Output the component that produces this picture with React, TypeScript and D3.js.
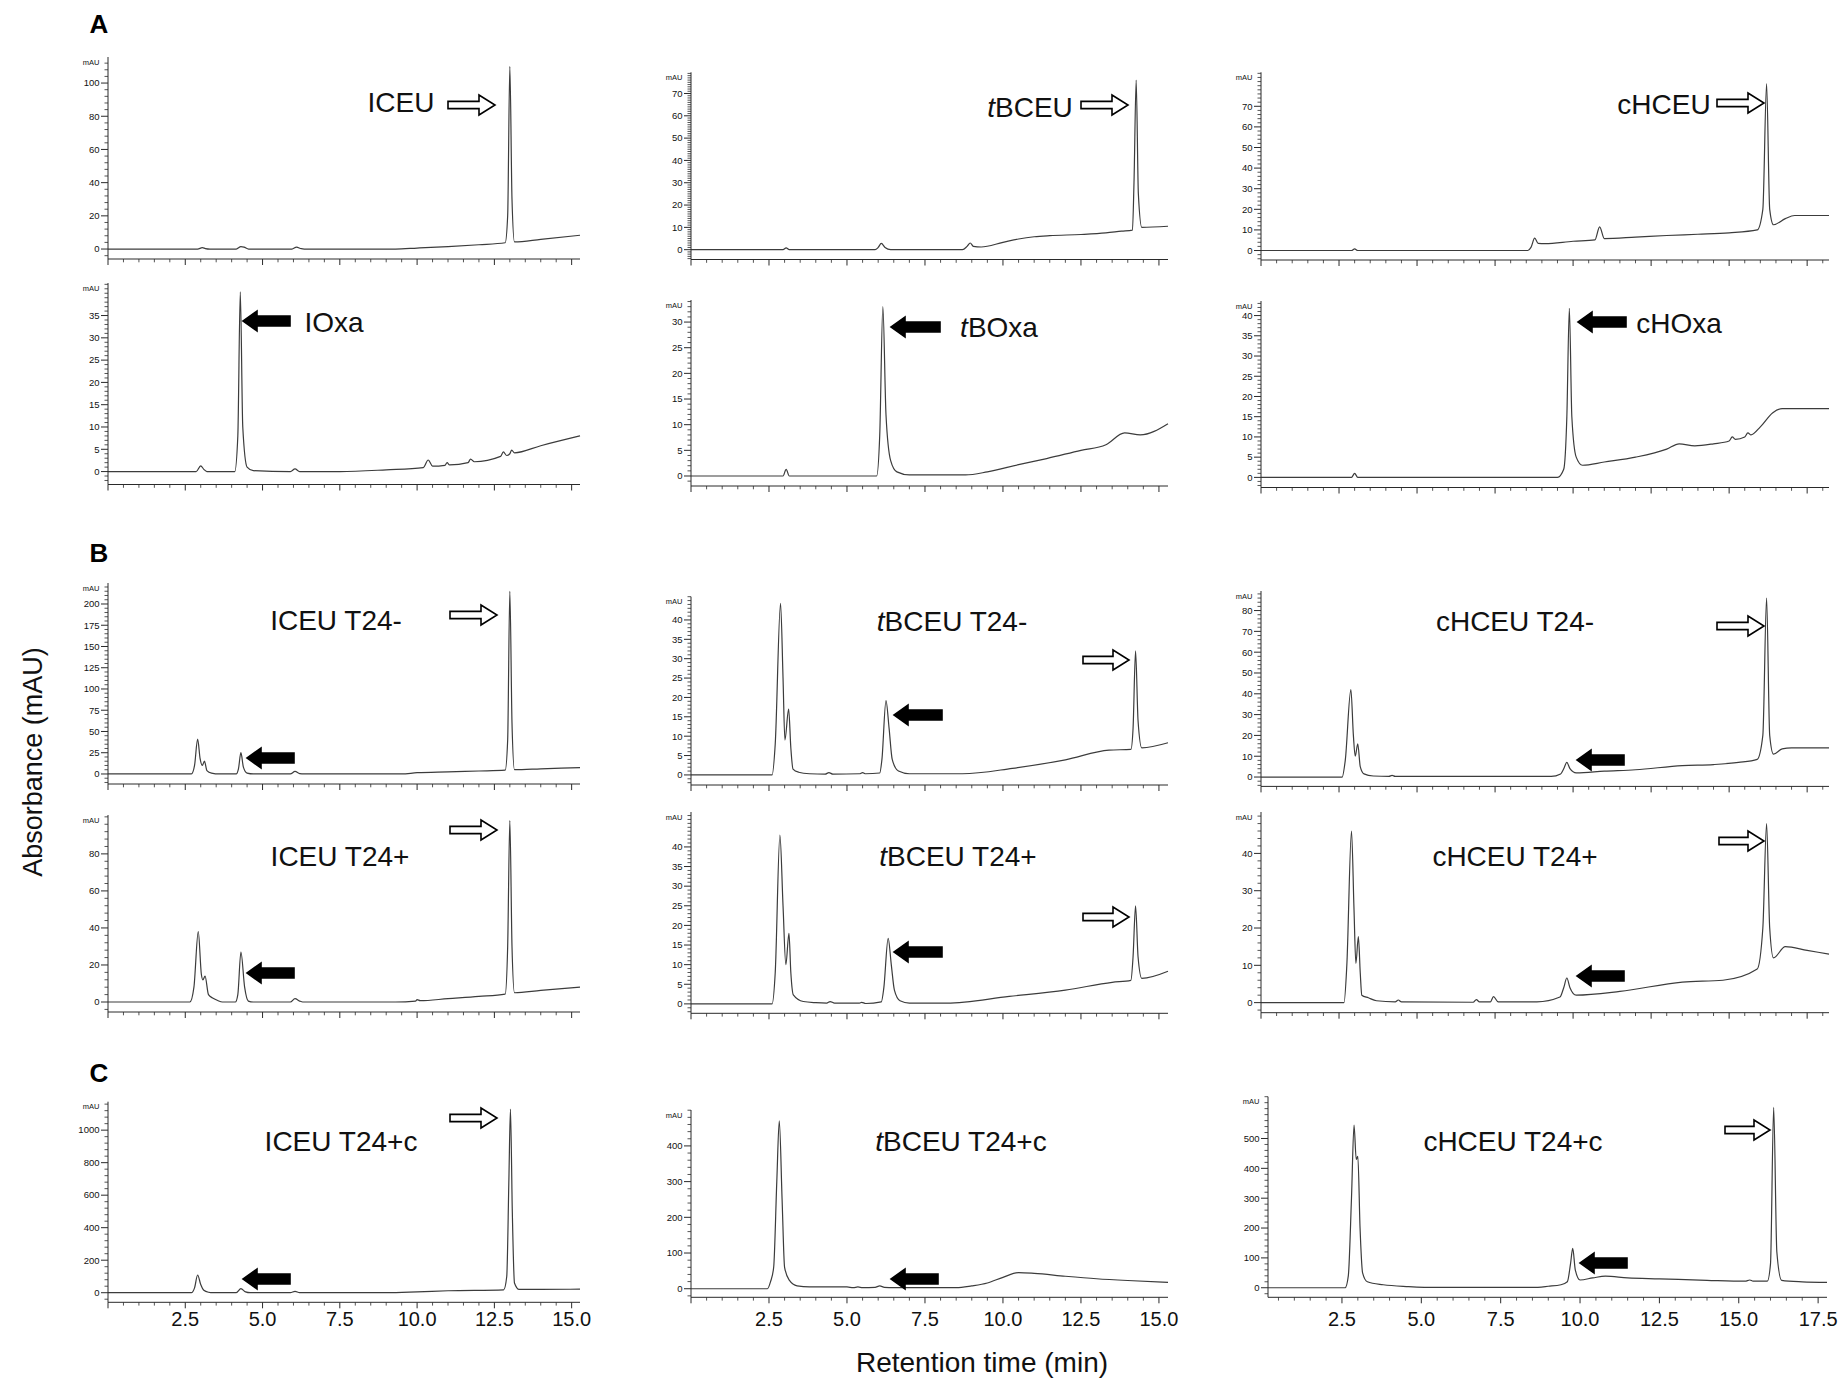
import React from 'react';
import * as d3 from 'd3';

type Pt = [number, number];

// ---------- Data (retention time in min, absorbance in mAU) ----------
const ICEU: Pt[] = [[0,0],[2.9,0],[3.05,0.8],[3.15,0.3],[3.3,0],[4.15,0],[4.3,1.5],[4.4,1.2],[4.55,0],[5.95,0],[6.1,1.2],[6.25,0.2],[6.35,0],[9.3,0],[10,0.6],[11,1.5],[12,2.6],[12.85,3.8],[12.93,20],[13.0,110],[13.07,30],[13.15,4.3],[14,5.8],[15.27,8.3]];
const IOxa: Pt[] = [[0,0],[2.85,0],[3.0,1.3],[3.1,0.5],[3.2,0],[4.1,0],[4.2,8],[4.28,40.3],[4.36,10],[4.5,1],[4.7,0.2],[5.9,0],[6.05,0.6],[6.2,0],[7.5,0],[9,0.4],[10.2,0.9],[10.36,2.6],[10.5,1.2],[10.9,1.4],[10.97,2],[11.05,1.5],[11.65,2],[11.73,2.8],[11.85,2.2],[12.7,3.4],[12.79,4.4],[12.9,3.6],[13.0,4],[13.06,4.8],[13.15,4.2],[14,5.8],[15.27,8]];
const tBCEU: Pt[] = [[0,0],[2.95,0],[3.05,0.8],[3.15,0],[5.9,0],[6.0,1],[6.1,2.8],[6.22,1],[6.4,0],[8.7,0],[8.85,1.5],[8.95,3],[9.05,1.5],[9.3,1.2],[10,3.3],[10.5,4.8],[11,5.8],[11.5,6.3],[12.5,6.8],[13.3,7.5],[13.8,8.3],[14.15,8.8],[14.2,30],[14.27,76],[14.34,25],[14.45,10],[15.29,10.5]];
const tBOxa: Pt[] = [[0,0],[2.95,0],[3.05,1.3],[3.15,0],[5.95,0],[6.05,8],[6.15,33],[6.25,12],[6.4,3],[6.6,0.8],[7,0.2],[8.8,0.2],[9.5,0.8],[10.5,2.2],[11.4,3.4],[12.5,5],[13.3,6.1],[13.9,8.4],[14.4,8],[15.29,10.2]];
const cHCEU: Pt[] = [[0,0],[2.9,0],[3.0,0.8],[3.1,0],[8.55,0],[8.65,1.5],[8.77,6],[8.88,3.5],[9.1,3.3],[10,4.5],[10.7,5.2],[10.85,11.5],[11.0,5.8],[12,6.5],[13,7.3],[14,7.9],[15,8.6],[15.9,10],[16.08,20],[16.2,81],[16.3,20],[16.42,12.5],[16.8,15.5],[17.1,17],[18.2,17]];
const cHOxa: Pt[] = [[0,0],[2.9,0],[3.0,1],[3.1,0],[9.5,0],[9.7,2],[9.8,15],[9.88,41.8],[9.96,15],[10.1,5],[10.3,3],[11,3.8],[12,5],[13,7],[13.4,8.3],[13.9,7.8],[14.5,8.3],[15.0,9],[15.1,10],[15.2,9.4],[15.5,10],[15.6,11],[15.7,10.5],[16.0,12.5],[16.4,16],[16.7,17],[18.2,17]];
const ICEU_T24m: Pt[] = [[0,0],[2.7,0],[2.8,10],[2.9,41],[2.98,18],[3.05,10],[3.12,15],[3.2,4],[3.35,1],[3.6,0],[4.15,0],[4.22,6],[4.3,25],[4.38,8],[4.5,1],[4.7,0],[5.9,0],[6.05,3],[6.2,0.5],[6.35,0],[9.5,0],[10.0,1.5],[11.0,2.5],[12.0,3.5],[12.85,4.5],[12.93,40],[13.0,215],[13.07,60],[13.15,5],[14,6],[15.27,7.5]];
const ICEU_T24p: Pt[] = [[0,0],[2.65,0],[2.78,8],[2.92,38],[3.02,15],[3.07,12],[3.14,14],[3.25,4],[3.4,2],[3.55,0.8],[3.7,0],[4.12,0],[4.2,4],[4.3,27],[4.42,8],[4.54,0.5],[4.7,0],[5.9,0],[6.05,1.8],[6.2,0.5],[6.3,0],[9.3,0],[9.95,0.5],[10.0,1.3],[10.1,0.7],[11,1.8],[12,3],[12.85,4.3],[12.93,30],[13.0,98],[13.07,30],[13.15,5],[14,6.3],[15.27,8]];
const tBCEU_T24m: Pt[] = [[0,0],[2.6,0],[2.7,8],[2.87,44.3],[2.95,25],[3.01,9],[3.13,17],[3.2,7],[3.27,1.5],[3.45,0.7],[3.8,0.3],[4.3,0.2],[4.42,0.6],[4.55,0.2],[5.4,0.3],[5.5,0.6],[5.6,0.3],[6.05,0.5],[6.12,4],[6.25,19.2],[6.35,12],[6.45,4],[6.65,1],[7,0.3],[8.7,0.3],[10.3,1.7],[12,3.9],[13.4,6.4],[14.1,6.6],[14.17,12],[14.25,32],[14.33,14],[14.45,7],[15.29,8.3]];
const tBCEU_T24p: Pt[] = [[0,0],[2.6,0],[2.7,8],[2.85,43],[2.95,25],[3.04,10],[3.14,18],[3.2,8],[3.28,2.3],[3.6,0.6],[4,0.3],[4.35,0.2],[4.46,0.6],[4.6,0.2],[5.4,0.2],[5.47,0.4],[5.6,0.1],[6.1,0.5],[6.18,4],[6.32,16.7],[6.42,10],[6.52,3.5],[6.7,0.8],[7,0.2],[8.2,0.2],[10.2,1.9],[12,3.5],[13.5,5.5],[14.1,6],[14.17,12],[14.25,25],[14.33,12],[14.45,6.5],[15.29,8.3]];
const cHCEU_T24m: Pt[] = [[0,0],[2.6,0],[2.7,8],[2.88,42],[2.96,20],[3.02,10],[3.1,16],[3.18,5],[3.3,1.5],[3.6,0.5],[4.1,0.3],[4.2,0.8],[4.3,0.3],[9.3,0.3],[9.6,1.5],[9.7,4],[9.8,7],[9.9,4],[10.1,2],[11,2.8],[12,3.5],[13.5,5.5],[14.5,6],[15.3,7],[15.9,8.5],[16.08,20],[16.2,86],[16.3,20],[16.42,11],[16.7,13.5],[17,14],[18.2,14]];
const cHCEU_T24p: Pt[] = [[0,0],[2.66,0],[2.75,10],[2.9,46],[2.98,25],[3.04,10.5],[3.12,17.7],[3.18,8],[3.23,2],[3.44,1.3],[3.7,0.5],[4.3,0.2],[4.4,0.7],[4.5,0.2],[6.8,0.1],[6.9,0.8],[7.0,0.2],[7.35,0.2],[7.45,1.6],[7.6,0.2],[8.84,0.2],[9.58,1.5],[9.7,4],[9.8,6.6],[9.9,4],[10.1,2],[11.5,3],[13.5,5.5],[14.8,6],[15.9,9],[16.08,20],[16.2,48],[16.3,20],[16.42,12],[16.8,15],[17.5,14],[18.2,13]];
const ICEU_T24c: Pt[] = [[0,0],[2.7,0],[2.8,30],[2.9,109],[3.0,50],[3.1,15],[3.25,3],[3.4,0],[4.15,0],[4.3,25],[4.45,5],[4.6,0],[5.9,0],[6.05,8],[6.2,0],[9.0,0],[10,5],[11,12],[12.8,18],[12.9,100],[12.97,700],[13.02,1130],[13.08,500],[13.15,60],[13.3,20],[14,20],[15.27,22]];
const tBCEU_T24c: Pt[] = [[0,0],[2.45,0],[2.55,20],[2.65,60],[2.75,300],[2.83,470],[2.92,250],[3.0,60],[3.15,24],[3.4,8],[3.8,5],[5.0,5],[5.2,3],[5.35,5],[5.5,3],[5.9,4],[6.05,8],[6.2,4],[6.5,3],[8.5,3],[9.0,8],[9.5,16],[10,32],[10.5,45],[11,43],[12,35],[13,28],[14,23],[15.29,18]];
const cHCEU_T24c: Pt[] = [[0.17,0],[2.6,0],[2.7,40],[2.8,300],[2.88,545],[2.95,430],[3.0,440],[3.07,200],[3.15,50],[3.3,20],[3.8,10],[4.6,4],[5.5,1],[8.5,1],[9.0,5],[9.4,10],[9.6,20],[9.7,80],[9.77,132],[9.85,60],[10.0,26],[10.4,33],[10.8,39],[11.5,33],[12.5,30],[14,25],[15.2,22],[15.35,26],[15.45,22],[15.9,22],[16.0,80],[16.1,604],[16.2,120],[16.35,25],[17,20],[17.78,18]];

// tick settings (mAU): major step, minor step, largest labelled value
const yMajor = [20, 10, 10, 5, 5, 5, 25, 5, 10, 20, 5, 10, 200, 100, 100];
const yMinor = [4, 1, 2, 1, 1, 1, 5, 1, 2, 4, 1, 2, 40, 20, 20];
const yLabelMax = [100, 70, 70, 35, 30, 40, 200, 40, 80, 80, 40, 40, 1000, 400, 500];
const yDomain: Pt[] = [[-6, 115.7], [-4.4, 79.5], [-4.6, 86.5], [-2.9, 42.3], [-1.95, 34.3], [-2.5, 43.6], [-11.8, 224.7], [-2.6, 46], [-4.5, 89.4], [-5.4, 101], [-2.4, 48.9], [-2.7, 51.1], [-59, 1175], [-24, 500.6], [-32, 640]];
const xTickLabels = [2.5, 5.0, 7.5, 10.0, 12.5, 15.0, 17.5];

type Part = { t: string; i?: boolean };
const titles: Part[][] = [
  [{ t: 'ICEU' }], [{ t: 't', i: true }, { t: 'BCEU' }], [{ t: 'cHCEU' }],
  [{ t: 'IOxa' }], [{ t: 't', i: true }, { t: 'BOxa' }], [{ t: 'cHOxa' }],
  [{ t: 'ICEU T24-' }], [{ t: 't', i: true }, { t: 'BCEU T24-' }], [{ t: 'cHCEU T24-' }],
  [{ t: 'ICEU T24+' }], [{ t: 't', i: true }, { t: 'BCEU T24+' }], [{ t: 'cHCEU T24+' }],
  [{ t: 'ICEU T24+c' }], [{ t: 't', i: true }, { t: 'BCEU T24+c' }], [{ t: 'cHCEU T24+c' }],
];
const traces = [ICEU, tBCEU, cHCEU, IOxa, tBOxa, cHOxa, ICEU_T24m, tBCEU_T24m, cHCEU_T24m, ICEU_T24p, tBCEU_T24p, cHCEU_T24p, ICEU_T24c, tBCEU_T24c, cHCEU_T24c];

// ---------- Layout ----------
const W = 1839, H = 1379;
const colX = [
  { x0: 108, x1: 580, t0: 0, t1: 15.27 },
  { x0: 691, x1: 1168, t0: 0, t1: 15.29 },
  { x0: 1261, x1: 1829, t0: 0, t1: 18.2 },
];
const col3C = { x0: 1268, x1: 1827, t0: 0.17, t1: 17.78 };
const rowY: Pt[][] = [
  [[57, 259], [72.3, 259.5], [72.3, 260]],
  [[283, 484.5], [300, 486], [301, 487.5]],
  [[583, 784], [596.7, 785], [591, 786.4]],
  [[815, 1012], [812, 1013.3], [812, 1012.7]],
  [[1101.7, 1302.3], [1110, 1297.3], [1096.7, 1297.3]],
];
const xLabelBaseline = 1326;
// title: [center x, baseline y]
const titlePos: Pt[] = [
  [401, 112], [1030, 117], [1664, 114],
  [334, 332], [999, 337], [1679, 333],
  [336, 630], [952, 631], [1515, 631],
  [340, 866], [958, 866], [1515, 866],
  [341, 1151], [961, 1151], [1513, 1151],
];
// arrows: [xStart, xEnd, yCenter, filled(1)/open(0)]
const arrows: number[][][] = [
  [[448, 495, 105, 0]], [[1081, 1128, 105, 0]], [[1717, 1764, 103, 0]],
  [[243, 290, 321, 1]], [[891, 940, 327, 1]], [[1578, 1626, 322, 1]],
  [[450, 497, 615, 0], [247, 294, 758, 1]], [[1083, 1129, 660, 0], [894, 942, 715, 1]], [[1717, 1764, 626, 0], [1577, 1624, 760, 1]],
  [[450, 497, 830, 0], [247, 294, 973, 1]], [[1083, 1129, 917, 0], [894, 942, 952, 1]], [[1719, 1764, 841, 0], [1577, 1624, 976, 1]],
  [[450, 497, 1118, 0], [243, 290, 1279, 1]], [[891, 938, 1279, 1]], [[1725, 1770, 1130, 0], [1580, 1627, 1263, 1]],
];

const FONT = "Arial, 'Liberation Sans', Helvetica, sans-serif";
const AX = '#2a2a2a';
const TR = '#3c3c3c';

function arrowPath(xs: number, xe: number, yc: number, filled: boolean) {
  if (!filled) {
    const hl = 16, sh = 3.6, hh = 10;
    return `M${xs},${yc - sh}L${xe - hl},${yc - sh}L${xe - hl},${yc - hh}L${xe},${yc}L${xe - hl},${yc + hh}L${xe - hl},${yc + sh}L${xs},${yc + sh}Z`;
  }
  const hl = 14, sh = 5, hh = 10;
  return `M${xe},${yc - sh}L${xs + hl},${yc - sh}L${xs + hl},${yc - hh}L${xs},${yc}L${xs + hl},${yc + hh}L${xs + hl},${yc + sh}L${xe},${yc + sh}Z`;
}

function range(a: number, b: number, step: number) {
  const out: number[] = [];
  const start = Math.ceil(a / step - 1e-9) * step;
  for (let v = start; v <= b + 1e-9; v += step) out.push(Math.round(v * 1000) / 1000);
  return out;
}

function Panel({ idx }: { idx: number }) {
  const r = Math.floor(idx / 3), c = idx % 3;
  const cx = r === 4 && c === 2 ? col3C : colX[c];
  const [top, bottom] = rowY[r][c];
  const xs = d3.scaleLinear().domain([cx.t0, cx.t1]).range([cx.x0, cx.x1]);
  const ys = d3.scaleLinear().domain(yDomain[idx]).range([bottom, top]);
  const line = d3.line<Pt>().x(d => xs(d[0])).y(d => ys(d[1])).curve(d3.curveMonotoneX);
  const [ymin, ymax] = yDomain[idx];
  const majors = range(0, yLabelMax[idx], yMajor[idx]);
  const minors = range(ymin, ymax, yMinor[idx]).filter(v => !majors.some(m => Math.abs(m - v) < 1e-6));
  const xMajors = range(cx.t0, cx.t1, 2.5);
  const xMinors = range(cx.t0, cx.t1, 0.5).filter(v => !xMajors.some(m => Math.abs(m - v) < 1e-6));
  const x0 = cx.x0;
  const [tx, ty] = titlePos[idx];
  return (
    <g>
      <path d={line(traces[idx]) || ''} fill="none" stroke={TR} strokeWidth={1.2} strokeLinejoin="round" />
      <line x1={x0} x2={x0} y1={top} y2={bottom} stroke={AX} strokeWidth={1} />
      <line x1={x0} x2={cx.x1} y1={bottom} y2={bottom} stroke={AX} strokeWidth={1} />
      {majors.map(v => (
        <g key={'M' + v}>
          <line x1={x0 - 7} x2={x0} y1={ys(v)} y2={ys(v)} stroke={AX} strokeWidth={1} />
          <text x={x0 - 8.5} y={ys(v)} dy="0.35em" textAnchor="end" fontSize={9.5} fill="#111" fontFamily={FONT}>{v}</text>
        </g>
      ))}
      {minors.map(v => (
        <line key={'m' + v} x1={x0 - 3.5} x2={x0} y1={ys(v)} y2={ys(v)} stroke={AX} strokeWidth={0.8} />
      ))}
      <text x={x0 - 8.5} y={top + 5} dy="0.35em" textAnchor="end" fontSize={7.5} fill="#111" fontFamily={FONT}>mAU</text>
      {xMajors.map(v => (
        <line key={'X' + v} x1={xs(v)} x2={xs(v)} y1={bottom} y2={bottom + 6} stroke={AX} strokeWidth={1} />
      ))}
      {xMinors.map(v => (
        <line key={'x' + v} x1={xs(v)} x2={xs(v)} y1={bottom} y2={bottom + 3.3} stroke={AX} strokeWidth={0.8} />
      ))}
      {r === 4 && xTickLabels.filter(v => v < cx.t1).map(v => (
        <text key={'L' + v} x={xs(v)} y={xLabelBaseline} textAnchor="middle" fontSize={20} fill="#111" fontFamily={FONT}>{v.toFixed(1)}</text>
      ))}
      <text x={tx} y={ty} textAnchor="middle" fontSize={28} fill="#111" fontFamily={FONT}>
        {titles[idx].map((p, k) => (
          <tspan key={k} fontStyle={p.i ? 'italic' : 'normal'}>{p.t}</tspan>
        ))}
      </text>
      {arrows[idx].map((a, k) => (
        <path key={k} d={arrowPath(a[0], a[1], a[2], a[3] === 1)} fill={a[3] === 1 ? '#000' : '#fff'} stroke="#000" strokeWidth={1.6} strokeLinejoin="miter" />
      ))}
    </g>
  );
}

export default function App() {
  return (
    <svg width={W} height={H} viewBox={`0 0 ${W} ${H}`} style={{ position: 'absolute', left: 0, top: 0, background: '#fff' }}>
      <rect x={0} y={0} width={W} height={H} fill="#fff" />
      {traces.map((_, i) => <Panel key={i} idx={i} />)}
      <text x={99} y={33} textAnchor="middle" fontSize={26} fontWeight="bold" fontFamily={FONT}>A</text>
      <text x={99} y={562} textAnchor="middle" fontSize={26} fontWeight="bold" fontFamily={FONT}>B</text>
      <text x={99} y={1082} textAnchor="middle" fontSize={26} fontWeight="bold" fontFamily={FONT}>C</text>
      <text transform="translate(42,762) rotate(-90)" textAnchor="middle" fontSize={27} fill="#111" fontFamily={FONT}>Absorbance (mAU)</text>
      <text x={982} y={1372} textAnchor="middle" fontSize={28} fill="#111" fontFamily={FONT}>Retention time (min)</text>
    </svg>
  );
}
